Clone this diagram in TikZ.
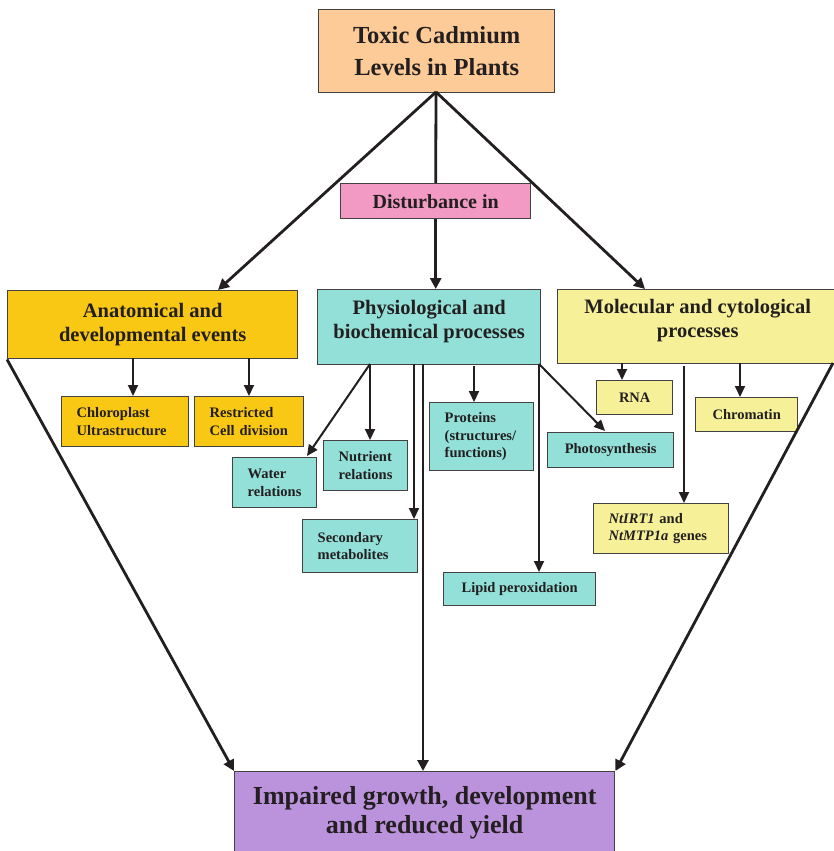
\documentclass[tikz,border=0pt]{standalone}
\usepackage{fontspec}
\setmainfont{Liberation Serif}
\usetikzlibrary{arrows.meta}
\definecolor{cpeach}{HTML}{FCCB97}
\definecolor{cpink}{HTML}{F29AC3}
\definecolor{cgold}{HTML}{F9C814}
\definecolor{cturq}{HTML}{92E0D8}
\definecolor{cyell}{HTML}{F6F199}
\definecolor{cpurp}{HTML}{BB92DC}
\definecolor{cink}{HTML}{231F20}
\tikzset{
  box/.style={draw=cink!85, line width=1.4pt, anchor=north west, inner sep=0pt, text=cink, font=\bfseries},
  bigarr/.style={draw=cink, line width=2.8pt, -{Triangle[length=11pt,width=11pt]}},
  bigline/.style={draw=cink, line width=2.8pt},
  smarr/.style={draw=cink, line width=2pt, -{Triangle[length=11pt,width=10pt]}},
  sm/.style={font=\bfseries\fontsize{14.5}{17.5}\selectfont, align=center},
  smleft/.style={font=\bfseries\fontsize{14.5}{17.5}\selectfont, align=left, text width=#1, inner xsep=0pt},
}
\begin{document}
\begin{tikzpicture}[x=1pt,y=-1pt]
\useasboundingbox (0,0) rectangle (833,851);
% main boxes
\node[box,fill=cpeach,minimum width=236pt,minimum height=83pt,font=\bfseries\fontsize{24.5}{31.5}\selectfont,align=center] (top) at (318,9) {Toxic Cadmium\\Levels in Plants};
\node[box,fill=cpink,minimum width=190pt,minimum height=35pt,font=\bfseries\fontsize{20}{22}\selectfont] (dist) at (340,183) {Disturbance in};
\node[box,fill=cgold,minimum width=290pt,minimum height=68pt,font=\bfseries\fontsize{20.5}{24}\selectfont,align=center] (anat) at (7,290) {Anatomical and\\developmental events};
\node[box,fill=cturq,minimum width=223pt,minimum height=75pt,font=\bfseries\fontsize{20.5}{24}\selectfont,align=center,text depth=16pt] (phys) at (317,289) {Physiological and\\biochemical processes};
\node[box,fill=cyell,minimum width=280pt,minimum height=74pt,font=\bfseries\fontsize{20.5}{24}\selectfont,align=center,text depth=16pt] (mol) at (557,289) {Molecular and cytological\\processes};
% small boxes
\node[box,smleft=127pt,fill=cgold,minimum height=50pt] (chl) at (61,396) {\hspace*{15pt}Chloroplast\\\hspace*{15pt}Ultrastructure};
\node[box,smleft=109pt,fill=cgold,minimum height=50pt] (res) at (194,396) {\hspace*{15pt}Restricted\\\hspace*{15pt}Cell division};
\node[box,smleft=84pt,fill=cturq,minimum height=50pt] (wat) at (232,457) {\hspace*{15pt}Water\\\hspace*{15pt}relations};
\node[box,smleft=84pt,fill=cturq,minimum height=50pt] (nut) at (323,440) {\hspace*{15pt}Nutrient\\\hspace*{15pt}relations};
\node[box,smleft=115pt,fill=cturq,minimum height=53pt] (sec) at (302,519) {\hspace*{15pt}Secondary\\\hspace*{15pt}metabolites};
\node[box,smleft=104pt,fill=cturq,minimum height=68pt] (pro) at (429,402) {\hspace*{15pt}Proteins\\\hspace*{15pt}(structures/\\\hspace*{15pt}functions)};
\node[box,sm,fill=cturq,minimum width=126pt,minimum height=35pt] (pho) at (547,432) {Photosynthesis};
\node[box,sm,fill=cturq,minimum width=152pt,minimum height=33pt] (lip) at (443,572) {Lipid peroxidation};
\node[box,sm,fill=cyell,minimum width=76pt,minimum height=34pt] (rna) at (596,380) {RNA};
\node[box,sm,fill=cyell,minimum width=102pt,minimum height=34pt] (chr) at (695,397) {Chromatin};
\node[box,smleft=135pt,fill=cyell,minimum height=50pt] (gen) at (593,503) {\hspace*{15pt}\textit{NtIRT1} and\\\hspace*{15pt}\textit{NtMTP1a} genes};
\node[box,fill=cpurp,minimum width=380pt,minimum height=90pt,font=\bfseries\fontsize{26}{29}\selectfont,align=center,text depth=14pt] (imp) at (234,771) {Impaired growth, development\\and reduced yield};
% connectors from top
\coordinate (tb) at (436,92);
\draw[bigarr] (tb) -- (218,290);
\draw[bigarr] (tb) -- (645,289);
\draw[bigline] (tb) -- (dist.north);
\draw[bigarr] (dist.south) -- (phys.north -| dist.south);
% to impaired
\draw[bigarr] (anat.south west) -- (imp.north west);
\draw[bigarr] (833,363) -- (imp.north east);
\draw[bigarr] (423,364) -- (423,771);
% anatomical children
\draw[smarr] (133,358) -- (chl.north -| 133,0);
\draw[smarr] (249,358) -- (res.north -| 249,0);
% physiological children
\draw[smarr] (370,364) -- (307,456);
\draw[smarr] (370,364) -- (nut.north -| 370,0);
\draw[smarr] (414,364) -- (sec.north -| 414,0);
\draw[smarr] (474,366) -- (pro.north -| 474,0);
\draw[smarr] (539,364) -- (605,431);
\draw[smarr] (539,364) -- (lip.north -| 539,0);
% molecular children
\draw[smarr] (622,363) -- (rna.north -| 622,0);
\draw[smarr] (740,363) -- (chr.north -| 740,0);
\draw[smarr] (684,366) -- (gen.north -| 684,0);
\end{tikzpicture}
\end{document}
